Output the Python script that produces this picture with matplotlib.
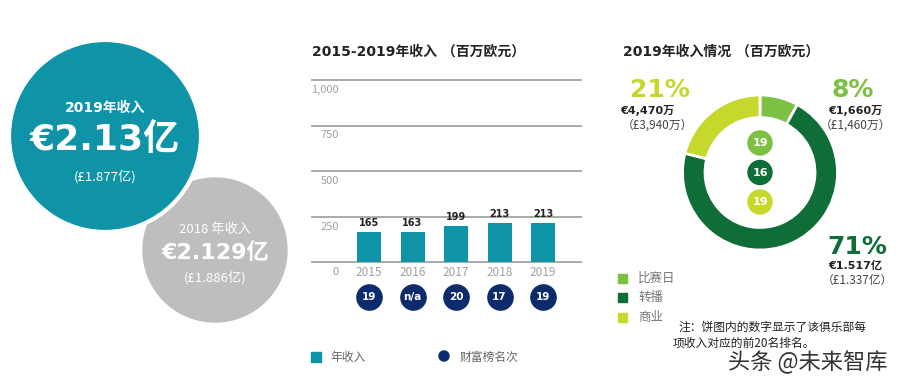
import matplotlib
matplotlib.use("Agg")
import matplotlib.pyplot as plt
from matplotlib.patches import Circle, Rectangle

plt.rcParams['font.family'] = ['Noto Sans CJK SC', 'DejaVu Sans']
LAT = ['DejaVu Sans', 'Noto Sans CJK SC']

# --- data ---
years = ['2015', '2016', '2017', '2018', '2019']
revenue = [165, 163, 199, 213, 213]
ranks = ['19', 'n/a', '20', '17', '19']
y_ticks = [0, 250, 500, 750, 1000]
y_labels = ['0', '250', '500', '750', '1,000']

share_names = ['比赛日', '转播', '商业']
share_pct = [8, 71, 21]
share_rank = ['19', '16', '19']
share_eur = ['€1,660万', '€1.517亿', '€4,470万']
share_gbp = ['（£1,460万）', '（£1.337亿）', '（£3,940万）']

TEAL = '#0F94A7'
GRAY = '#BEBEBE'
NAVY = '#0C2B6C'
GREENS = ['#7CC143', '#0F6D37', '#C6D82C']

fig = plt.figure(figsize=(9.06, 3.84), dpi=100)

# overlay axes in pixel coords
ax0 = fig.add_axes([0, 0, 1, 1])
ax0.set_xlim(0, 906)
ax0.set_ylim(384, 0)
ax0.axis('off')

# big summary circles
ax0.add_patch(Circle((215, 250), 72, color=GRAY, zorder=1))
ax0.add_patch(Circle((105, 136), 96, facecolor=TEAL, edgecolor='white', lw=3, zorder=2))
ax0.text(105, 108, '2019年收入', color='white', fontsize=10, fontweight='bold',
         family=LAT, ha='center', va='center', zorder=3)
ax0.text(105, 140, '€2.13亿', color='white', fontsize=26, fontweight='bold',
         family=LAT, ha='center', va='center', zorder=3)
ax0.text(105, 177, '(£1.877亿)', color='white', fontsize=9.5,
         ha='center', va='center', zorder=3)
ax0.text(215, 230, '2018 年收入', color='white', fontsize=9.5,
         ha='center', va='center', zorder=3)
ax0.text(215, 253, '€2.129亿', color='white', fontsize=16, fontweight='bold',
         family=LAT, ha='center', va='center', zorder=3)
ax0.text(215, 278, '(£1.886亿)', color='white', fontsize=9.5,
         ha='center', va='center', zorder=3)

# titles
ax0.text(312, 52, '2015-2019年收入 （百万欧元）', fontsize=10, fontweight='bold',
         family=LAT, color='#222222', ha='left', va='center')
ax0.text(623, 52, '2019年收入情况 （百万欧元）', fontsize=10, fontweight='bold',
         family=LAT, color='#222222', ha='left', va='center')

# bar legend
ax0.add_patch(Rectangle((311, 352), 10, 10, color=TEAL))
ax0.text(330, 357, '年收入', fontsize=8.5, color='#666666', va='center')
ax0.add_patch(Circle((444, 356), 5, color=NAVY))
ax0.text(460, 357, '财富榜名次', fontsize=8.5, color='#666666', va='center')

# --- bar chart ---
ax = fig.add_axes([312 / 906, (384 - 262) / 384, 269 / 906, 182 / 384])
x = list(range(len(years)))
ax.set_xlim(-1.31, 4.87)
ax.set_ylim(0, 1000)
ax.axis('off')
px = 1000 / 182
for v, lab in zip(y_ticks, y_labels):
    ax.axhline(v, color='#AAAAAA', lw=1.4, clip_on=False, zorder=0)
    ax.text(-0.69, v - 10 * px, lab, fontsize=8, color='#A0A0A0',
            ha='right', va='center')
ax.bar(x, revenue, width=0.55, color=TEAL, zorder=2)
for xi, v, yr in zip(x, revenue, years):
    ax.text(xi, v + 4 * px, str(v), fontsize=7, fontweight='bold', family=LAT,
            color='#222222', ha='center', va='bottom')
    ax.text(xi, -10 * px, yr, fontsize=8.5, color='#A0A0A0', ha='center', va='center')
ax.scatter(x, [-35 * px] * len(x), s=330, color=NAVY, clip_on=False, zorder=3)
for xi, rk in zip(x, ranks):
    ax.text(xi, -35 * px, rk, fontsize=7.5, fontweight='bold', family=LAT,
            color='white', ha='center', va='center', zorder=4)

# --- donut ---
axd = fig.add_axes([(760 - 80) / 906, (384 - 172.5 - 80) / 384, 160 / 906, 160 / 384])
axd.pie(share_pct, radius=77.5, colors=GREENS, startangle=90, counterclock=False,
        wedgeprops=dict(width=22.5, edgecolor='white', linewidth=2))
axd.set_xlim(-80, 80)
axd.set_ylim(-80, 80)
axd.set_aspect('equal')
axd.axis('off')
for i, (rk, c) in enumerate(zip(share_rank, GREENS)):
    yy = 29.5 - i * 29.5
    axd.add_patch(Circle((0, yy), 12, color=c))
    axd.text(0, yy, rk, fontsize=8, fontweight='bold', family=LAT,
             color='white', ha='center', va='center')

# donut labels (pixel coords)
ax0.text(630, 90, f'{share_pct[2]}%', fontsize=18, fontweight='bold', family=LAT,
         color=GREENS[2], ha='left', va='center')
ax0.text(620, 110, share_eur[2], fontsize=8, fontweight='bold', family=LAT,
         color='#222222', ha='left', va='center')
ax0.text(622, 125, share_gbp[2], fontsize=8.5, color='#444444', ha='left', va='center')

ax0.text(874, 90, f'{share_pct[0]}%', fontsize=18, fontweight='bold', family=LAT,
         color=GREENS[0], ha='right', va='center')
ax0.text(882, 110, share_eur[0], fontsize=8, fontweight='bold', family=LAT,
         color='#222222', ha='right', va='center')
ax0.text(891, 125, share_gbp[0], fontsize=8.5, color='#444444', ha='right', va='center')

ax0.text(887, 247, f'{share_pct[1]}%', fontsize=18, fontweight='bold', family=LAT,
         color=GREENS[1], ha='right', va='center')
ax0.text(882, 266, share_eur[1], fontsize=8, fontweight='bold', family=LAT,
         color='#222222', ha='right', va='center')
ax0.text(893, 280, share_gbp[1], fontsize=8.5, color='#444444', ha='right', va='center')

# donut legend
for i, (nm, c) in enumerate(zip(share_names, GREENS)):
    yy = 278 + i * 19.5
    ax0.add_patch(Rectangle((618, yy - 4.5), 9, 9, color=c))
    ax0.text(638, yy, nm, fontsize=9, color='#777777', va='center')

ax0.text(678, 327, '注：饼图内的数字显示了该俱乐部每', fontsize=8.5, color='#222222', va='center')
ax0.text(673, 343, '项收入对应的前20名排名。', fontsize=8.5, color='#222222', va='center')
ax0.text(728, 362, '头条 @未来智库', fontsize=16, color='#333333', va='center')

fig.savefig('out.png', dpi=100)
